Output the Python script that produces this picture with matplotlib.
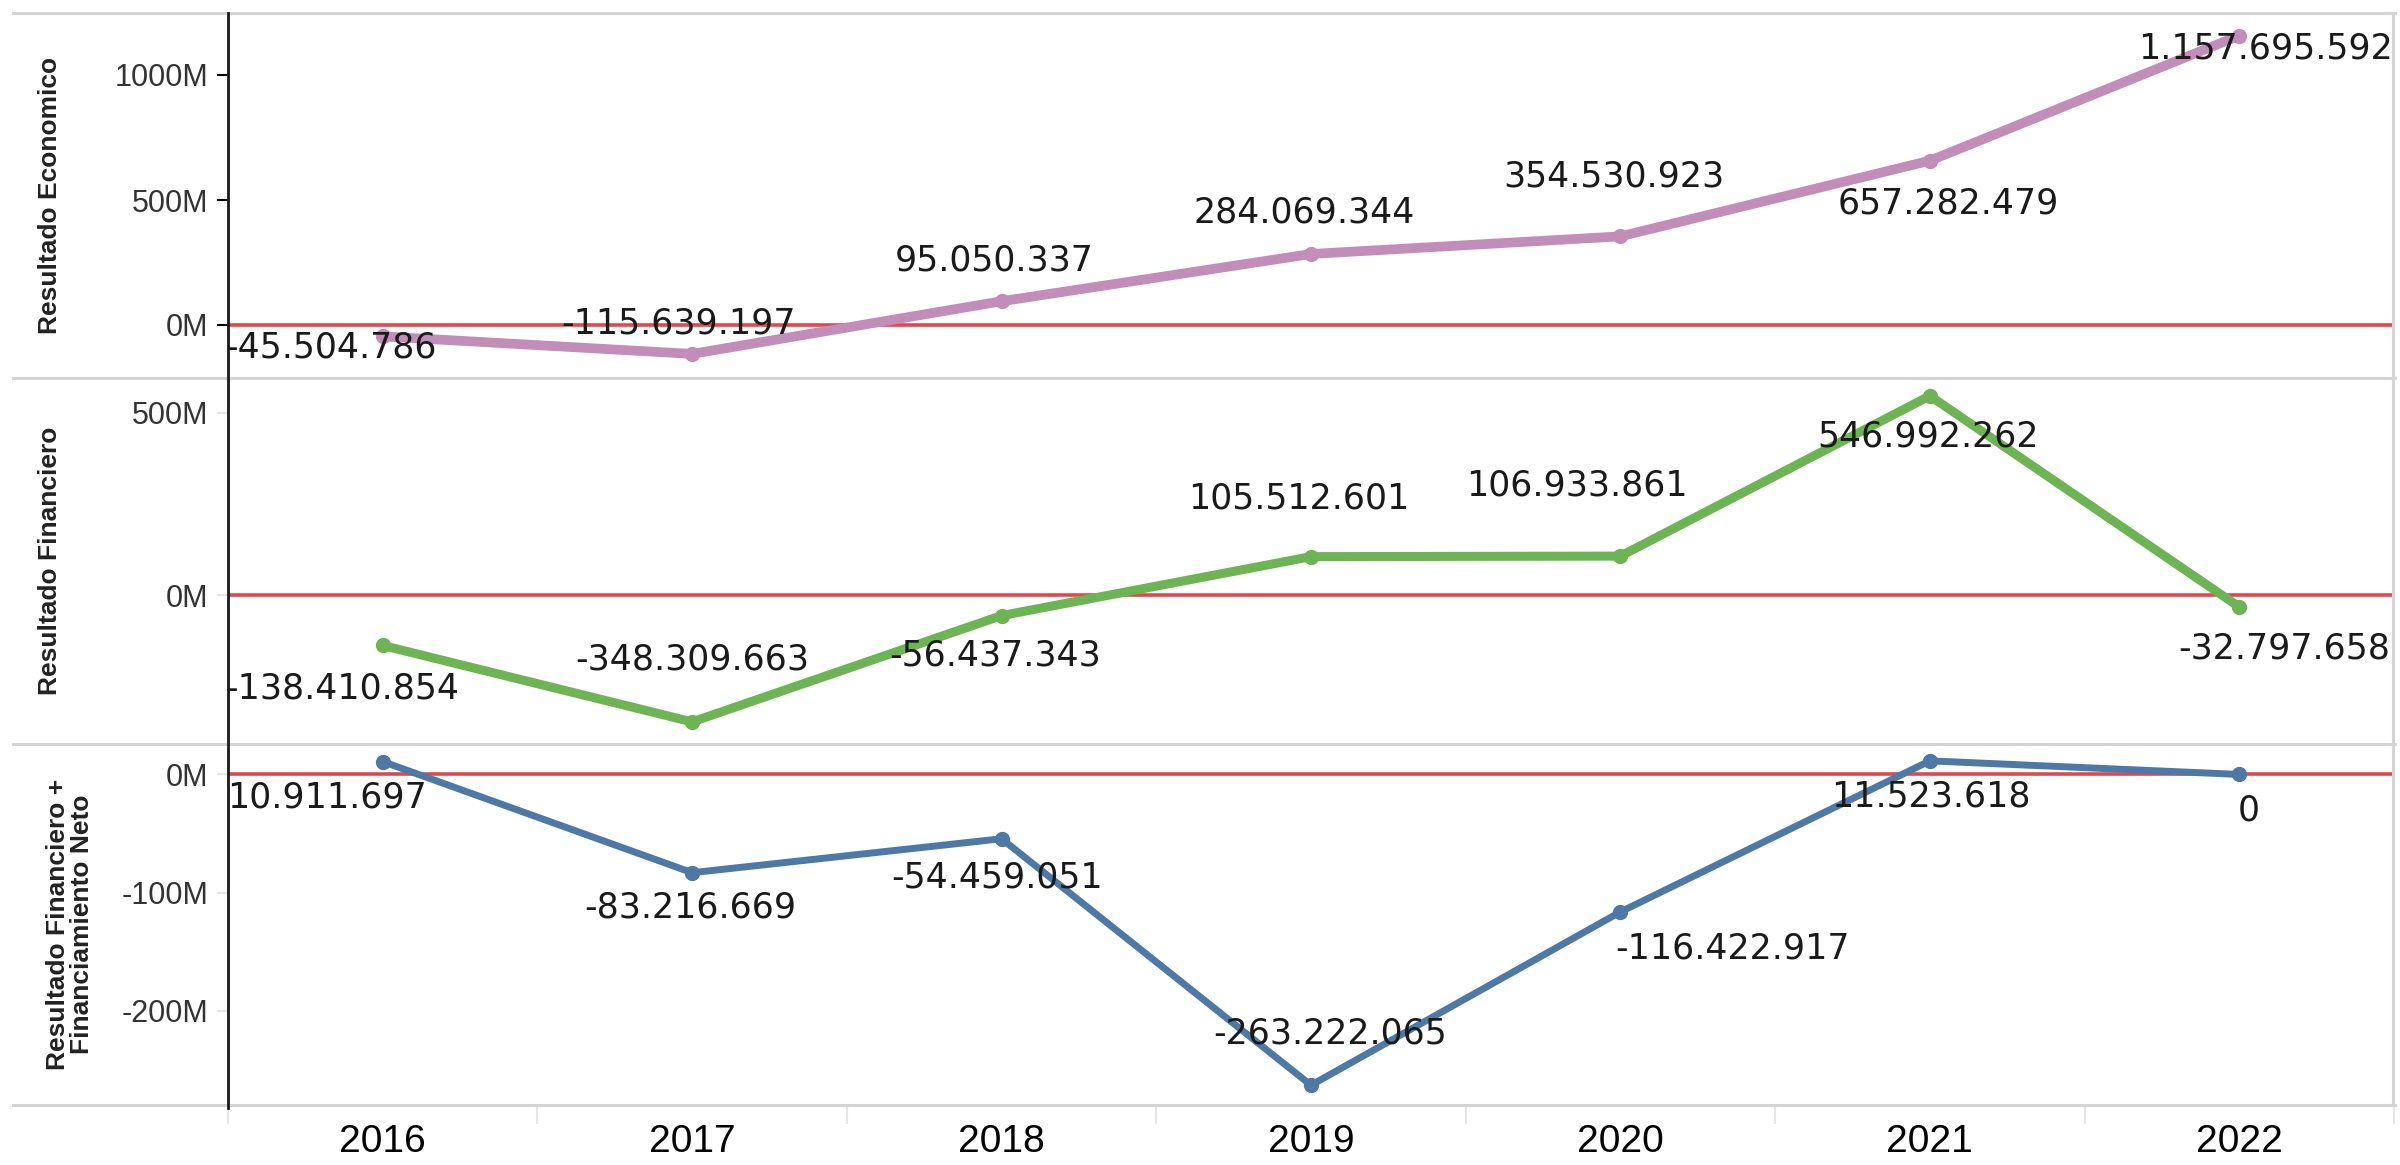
import matplotlib
matplotlib.use("Agg")
import matplotlib.pyplot as plt
from matplotlib.lines import Line2D
from matplotlib.ticker import FuncFormatter

# datos
years = ["2016", "2017", "2018", "2019", "2020", "2021", "2022"]
res_economico = [-45504786, -115639197, 95050337, 284069344, 354530923, 657282479, 1157695592]
res_financiero = [-138410854, -348309663, -56437343, 105512601, 106933861, 546992262, -32797658]
res_fin_neto = [10911697, -83216669, -54459051, -263222065, -116422917, 11523618, 0]

# desplazamiento de las etiquetas (puntos)
off_eco = [(-37, -8), (-10, 22), (-5, 29), (-5, 30), (-5, 43), (13, -31), (19, -9)]
off_fin = [(-29, -31), (0, 45), (-5, -29), (-9, 42), (-31, 51), (-1, -29), (32, -30)]
off_neto = [(-40, -26), (-1, -25), (-3, -28), (14, 37), (81, -26), (1, -26), (7, -26)]

W, H = 2400, 1165
fig = plt.figure(figsize=(W / 100, H / 100), dpi=100)
fig.patch.set_facecolor("white")

x = list(range(len(years)))
left, right = 228 / W, 2394 / W
edges = [13, 378, 744, 1105]  # px desde arriba


def fy(px):
    return 1 - px / H


def fmt(v):
    return f"{v:,.0f}".replace(",", ".")


panels = [
    (res_economico, "#c28db8", 7.0, (-212e6, 1248e6), [0, 500e6, 1000e6], off_eco,
     "Resultado Economico", "black"),
    (res_financiero, "#6cb454", 6.5, (-409e6, 596e6), [0, 500e6], off_fin,
     "Resultado Financiero", "#e6e6e6"),
    (res_fin_neto, "#4e79a7", 5.0, (-280e6, 25.8e6), [-200e6, -100e6, 0], off_neto,
     "Resultado Financiero +\nFinanciamiento Neto", "#e6e6e6"),
]

axes = []
for i, (vals, col, lw, ylim, yt, offs, title, tcol) in enumerate(panels):
    ax = fig.add_axes([left, fy(edges[i + 1]), right - left, fy(edges[i]) - fy(edges[i + 1])])
    ax.set_xlim(-0.5, 6.5)
    ax.set_ylim(*ylim)
    for s in ax.spines.values():
        s.set_visible(False)
    ax.axhline(0, color="#e0484d", lw=2.6, zorder=1)
    ax.plot(x, vals, color=col, lw=lw, marker="o", markersize=10, zorder=2,
            solid_joinstyle="round", solid_capstyle="round")
    for xi, v, (dx, dy) in zip(x, vals, offs):
        ax.annotate(fmt(v), (xi, v), xytext=(dx, dy), textcoords="offset points",
                    ha="center", va="center", fontsize=25, family="DejaVu Sans",
                    color="#1a1a1a", zorder=3)
    ax.set_yticks(yt)
    ax.yaxis.set_major_formatter(FuncFormatter(lambda v, p: f"{v / 1e6:.0f}M"))
    ax.tick_params(axis="y", length=8, width=1.5, color=tcol, pad=6,
                   labelsize=22, labelcolor="#333333")
    for lab in ax.get_yticklabels():
        lab.set_family("Liberation Sans")
    ax.set_xticks([])
    ymid = (edges[i] + edges[i + 1]) / 2
    tx = 50 if i < 2 else 70
    fig.text(tx / W, fy(ymid), title, rotation=90, ha="center", va="center",
             fontsize=19, fontweight="bold", family="Liberation Sans",
             multialignment="center", linespacing=1.05, color="#222222")
    axes.append(ax)

# eje x inferior
ax = axes[-1]
ax.set_xticks(x)
ax.set_xticklabels(years)
ax.set_xticks([i + 0.5 for i in range(-1, 7)], minor=True)
ax.tick_params(axis="x", which="major", length=0, pad=14, labelsize=28)
ax.tick_params(axis="x", which="minor", length=14, width=1.5, color="#e6e6e6")
for lab in ax.get_xticklabels():
    lab.set_family("Liberation Sans")

# separadores grises y bordes
for e in edges:
    fig.add_artist(Line2D([13 / W, 2395 / W], [fy(e), fy(e)], color="#d4d4d4", lw=2.2))
fig.add_artist(Line2D([2393 / W, 2393 / W], [fy(13), fy(1105)], color="#d4d4d4", lw=2.2))
fig.add_artist(Line2D([left, left], [fy(13), fy(1108)], color="#1a1a1a", lw=2.0))

fig.savefig("out.png", dpi=100, facecolor="white")
